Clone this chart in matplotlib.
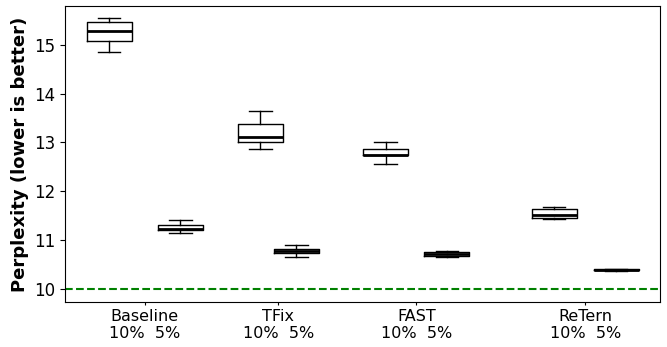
import matplotlib
matplotlib.use('Agg')
import matplotlib.pyplot as plt

# box stats: (min, q1, median, q3, max)
labels = ['Baseline 10%', 'Baseline 5%', 'TFix 10%', 'TFix 5%',
          'FAST 10%', 'FAST 5%', 'ReTern 10%', 'ReTern 5%']
whislo = [14.85, 11.14, 12.87, 10.65, 12.55, 10.66, 11.43, 10.37]
q1 = [15.09, 11.20, 13.00, 10.73, 12.74, 10.67, 11.45, 10.38]
med = [15.29, 11.22, 13.11, 10.78, 12.75, 10.72, 11.51, 10.39]
q3 = [15.47, 11.31, 13.38, 10.82, 12.87, 10.76, 11.63, 10.40]
whishi = [15.55, 11.40, 13.65, 10.89, 13.00, 10.78, 11.68, 10.41]

positions = [0.49, 1.28, 2.17, 2.57, 3.56, 4.24, 5.43, 6.12]
groups = ['Baseline\n10%  5%', 'TFix\n10%  5%', 'FAST\n10%  5%', 'ReTern\n10%  5%']
baseline = 10

stats = []
for i in range(len(labels)):
    stats.append({'label': labels[i], 'whislo': whislo[i], 'q1': q1[i], 'med': med[i],
                  'q3': q3[i], 'whishi': whishi[i], 'fliers': []})

# group tick sits midway between its two boxes
group_ticks = [(positions[2*k] + positions[2*k+1]) / 2 for k in range(len(groups))]

fig, ax = plt.subplots(figsize=(6.67, 3.47), dpi=100)
ax.bxp(stats, positions=positions, widths=0.5, showfliers=False,
       medianprops={'color': 'black', 'linewidth': 2},
       boxprops={'color': 'black'}, whiskerprops={'color': 'black'},
       capprops={'color': 'black'})
ax.axhline(baseline, color='green', linestyle='--', linewidth=1.5)

ax.set_xlim(0, 6.61)
ax.set_ylim(9.73, 15.8)
ax.set_xticks(group_ticks)
ax.set_xticklabels(groups, fontsize=11.5)
ax.tick_params(axis='x', length=2.5, pad=2.5)
ax.set_yticks([10, 11, 12, 13, 14, 15])
ax.tick_params(axis='y', labelsize=12)
ax.set_ylabel('Perplexity (lower is better)', fontsize=13, fontweight='bold')

plt.subplots_adjust(left=0.0975, right=0.99, top=0.983, bottom=0.13)
plt.savefig('out.png', dpi=100)
